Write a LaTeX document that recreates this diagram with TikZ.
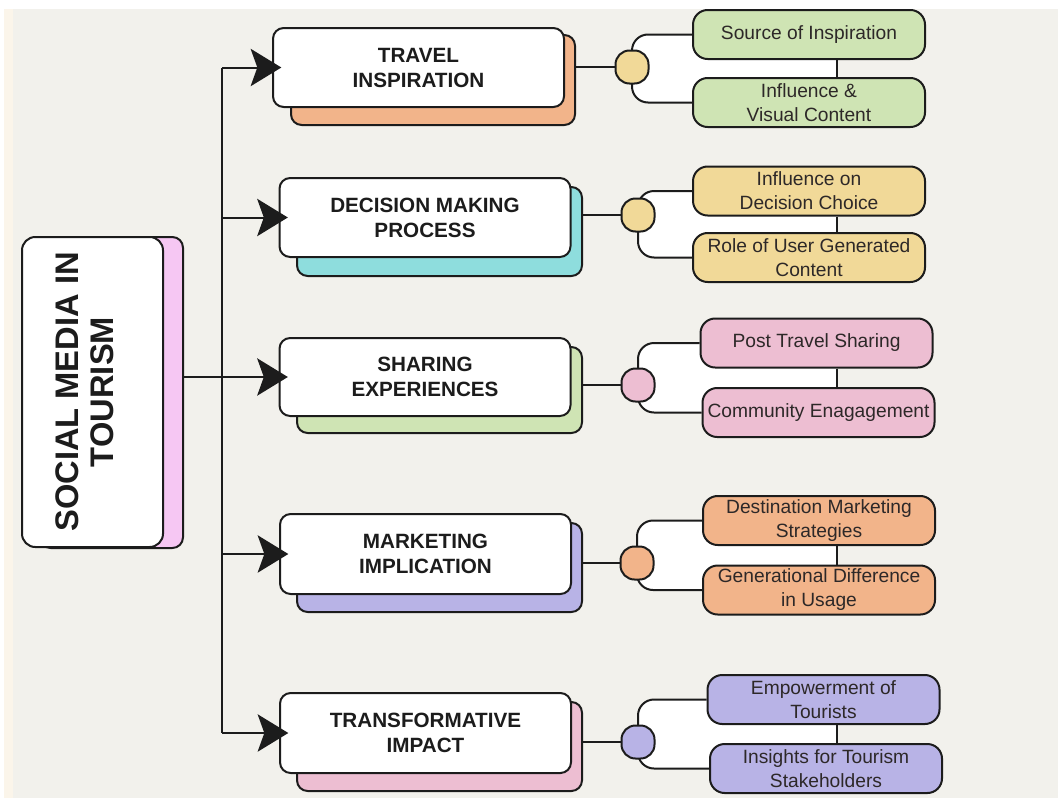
\documentclass[tikz,border=0pt]{standalone}
\usepackage{fontspec}
\setmainfont{Liberation Sans}
\usepackage{xcolor}
\usepackage{tikz}
\usetikzlibrary{arrows.meta, positioning, calc}
\definecolor{SMTPaper}{RGB}{242, 241, 236}
\definecolor{SMTCream}{RGB}{251, 245, 234}
\definecolor{SMTInk}{RGB}{28, 28, 28}
\definecolor{SMTText}{RGB}{45, 40, 40}
\definecolor{SMTOrange}{RGB}{242, 180, 138}
\definecolor{SMTCyan}{RGB}{142, 221, 221}
\definecolor{SMTGreen}{RGB}{207, 228, 180}
\definecolor{SMTLavender}{RGB}{184, 179, 230}
\definecolor{SMTPink}{RGB}{237, 190, 210}
\definecolor{SMTYellow}{RGB}{241, 217, 152}
\definecolor{SMTMagenta}{RGB}{246, 199, 243}
\newcommand{\px}{0.75pt}
\pgfdeclarelayer{paper}
\pgfdeclarelayer{under}
\pgfsetlayers{paper,under,main}
\tikzset{
  mainbox/.style={rounded corners=10pt, fill=white, draw=SMTInk, line width=1.5pt,
    minimum width=141*\px, minimum height=310*\px, inner sep=0pt},
  maintext/.style={rotate=90, inner sep=0pt, align=center,
    font=\fontsize{24.5}{26.5}\selectfont\bfseries, text=SMTInk},
  catbox/.style={rounded corners=8pt, fill=white, draw=SMTInk, line width=1.5pt,
    minimum width=291*\px, minimum height=80*\px, inner sep=0pt, align=center,
    font=\fontsize{15.5}{18.75}\selectfont\bfseries, text=SMTInk},
  catshadow/.style={rounded corners=8pt, fill=#1, draw=SMTInk, line width=1.5pt,
    minimum width=285*\px, minimum height=89*\px, inner sep=0pt},
  hub/.style={rounded corners=10.5pt, fill=#1, draw=SMTInk, line width=1.5pt,
    minimum size=33*\px, inner sep=0pt},
  leaf/.style={rounded corners=11pt, fill=#1, draw=SMTInk, line width=1.5pt,
    minimum width=232*\px, minimum height=49*\px, inner sep=0pt, align=center,
    font=\fontsize{14.4}{18}\selectfont, text=SMTText},
  link/.style={draw=SMTInk, line width=1.5pt},
  arr/.style={link, -{Stealth[length=23pt, width=28pt, inset=5pt]}, shorten >=-7pt},
  bracket/.style={link, rounded corners=12pt},
}

\begin{document}
\begin{tikzpicture}[x=\px, y=-\px]
  \useasboundingbox (0,0) rectangle (1062,803);
  \begin{pgfonlayer}{paper}
    \fill[white] (0,0) rectangle (1062,803);
    \fill[SMTCream] (4,9) rectangle (13,798);
    \fill[SMTPaper] (13,9) rectangle (1058,798);
  \end{pgfonlayer}

  \node[mainbox] (smt) at (92.5,392) {};
  \node[maintext] (smttext) at ($(smt.center)+(-8,0)$) {SOCIAL MEDIA IN\\TOURISM};

  \node[catbox, minimum height=79*\px] (c1) at (418.5,67.5) {TRAVEL\\INSPIRATION};
  \node[catbox, minimum height=79*\px] (c2) at (425,217.5) {DECISION MAKING\\PROCESS};
  \node[catbox, minimum height=78*\px] (c3) at (425,377) {SHARING\\EXPERIENCES};
  \node[catbox] (c4) at (425.5,554) {MARKETING\\IMPLICATION};
  \node[catbox] (c5) at (425.5,733) {TRANSFORMATIVE\\IMPACT};

  \begin{pgfonlayer}{under}
    \node[catshadow=SMTMagenta, minimum width=143*\px, minimum height=311*\px] (s0) at (111.5,392.5) {};
    \node[catshadow=SMTOrange, minimum width=284*\px, minimum height=90*\px] (s1) at (433,80) {};
    \node[catshadow=SMTCyan] (s2) at (439.5,231.5) {};
    \node[catshadow=SMTGreen, minimum height=86*\px] (s3) at (439.5,390) {};
    \node[catshadow=SMTLavender] (s4) at (439.5,567.5) {};
    \node[catshadow=SMTPink] (s5) at (439.5,746.5) {};
  \end{pgfonlayer}

  \coordinate (tk) at (222,0);
  \coordinate (lx) at (837,0);
  \draw[link] (s0.east |- c3) -- (tk |- c3);
  \draw[link] (tk |- c1) -- (tk |- c5);
  \foreach \c in {c1,c2,c3,c4,c5}
    \draw[arr] (tk |- \c.west) -- (\c.west);

  \node[hub=SMTYellow] (h1) at (632,67) {};
  \node[hub=SMTYellow] (h2) at (638,215) {};
  \node[hub=SMTPink] (h3) at (638,385) {};
  \node[hub=SMTOrange] (h4) at (637,563) {};
  \node[hub=SMTLavender] (h5) at (638,742) {};

  \node[leaf=SMTGreen] (a1) at (809,34.5) {Source of Inspiration};
  \node[leaf=SMTGreen] (b1) at (809,102.5) {Influence \&\\Visual Content};
  \node[leaf=SMTYellow] (a2) at (809,191) {Influence on\\Decision Choice};
  \node[leaf=SMTYellow] (b2) at (809,257.5) {Role of User Generated\\Content};
  \node[leaf=SMTPink] (a3) at (816.5,343) {Post Travel Sharing};
  \node[leaf=SMTPink] (b3) at (818.5,412.5) {Community Enagagement};
  \node[leaf=SMTOrange] (a4) at (819,520.5) {Destination Marketing\\Strategies};
  \node[leaf=SMTOrange] (b4) at (819,590) {Generational Difference\\in Usage};
  \node[leaf=SMTLavender] (a5) at (823.5,699.5) {Empowerment of\\Tourists};
  \node[leaf=SMTLavender] (b5) at (826,768.5) {Insights for Tourism\\Stakeholders};

  \foreach \k in {1,...,5} {
    \begin{pgfonlayer}{under}
      \fill[white, rounded corners=12pt] (a\k.center -| lx) -| (h\k.center) |- (b\k.center -| lx) -- cycle;
      \draw[bracket] (a\k.west) -| (h\k.center) |- (b\k.west);
    \end{pgfonlayer}
    \draw[link] (s\k.east |- h\k) -- (h\k);
    \draw[link] (a\k.south -| lx) -- (b\k.north -| lx);
  }
\end{tikzpicture}
\end{document}
